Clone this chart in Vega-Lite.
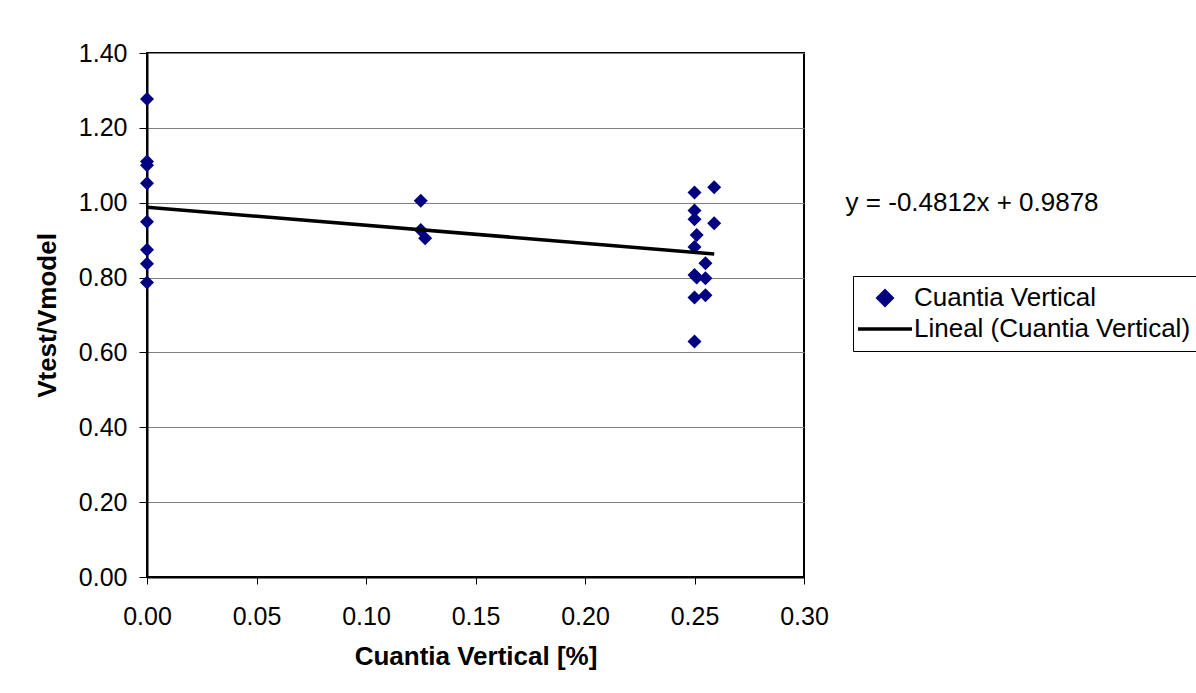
{
  "$schema": "https://vega.github.io/schema/vega-lite/v6.json",
  "width": 657,
  "height": 524,
  "autosize": "none",
  "padding": {"left": 147, "top": 53, "right": 392, "bottom": 116},
  "background": "white",
  "config": {
    "font": "Liberation Sans",
    "view": {"stroke": "black", "strokeWidth": 2}
  },
  "datasets": {
    "points": [
      {"cuantia": 0, "ratio": 1.277, "series": "Cuantia Vertical"},
      {"cuantia": 0, "ratio": 1.110, "series": "Cuantia Vertical"},
      {"cuantia": 0, "ratio": 1.100, "series": "Cuantia Vertical"},
      {"cuantia": 0, "ratio": 1.052, "series": "Cuantia Vertical"},
      {"cuantia": 0, "ratio": 0.949, "series": "Cuantia Vertical"},
      {"cuantia": 0, "ratio": 0.874, "series": "Cuantia Vertical"},
      {"cuantia": 0, "ratio": 0.837, "series": "Cuantia Vertical"},
      {"cuantia": 0, "ratio": 0.787, "series": "Cuantia Vertical"},
      {"cuantia": 0.125, "ratio": 1.005, "series": "Cuantia Vertical"},
      {"cuantia": 0.125, "ratio": 0.927, "series": "Cuantia Vertical"},
      {"cuantia": 0.127, "ratio": 0.905, "series": "Cuantia Vertical"},
      {"cuantia": 0.25, "ratio": 1.027, "series": "Cuantia Vertical"},
      {"cuantia": 0.25, "ratio": 0.979, "series": "Cuantia Vertical"},
      {"cuantia": 0.25, "ratio": 0.956, "series": "Cuantia Vertical"},
      {"cuantia": 0.251, "ratio": 0.914, "series": "Cuantia Vertical"},
      {"cuantia": 0.25, "ratio": 0.882, "series": "Cuantia Vertical"},
      {"cuantia": 0.25, "ratio": 0.807, "series": "Cuantia Vertical"},
      {"cuantia": 0.251, "ratio": 0.800, "series": "Cuantia Vertical"},
      {"cuantia": 0.25, "ratio": 0.747, "series": "Cuantia Vertical"},
      {"cuantia": 0.25, "ratio": 0.629, "series": "Cuantia Vertical"},
      {"cuantia": 0.255, "ratio": 0.838, "series": "Cuantia Vertical"},
      {"cuantia": 0.255, "ratio": 0.798, "series": "Cuantia Vertical"},
      {"cuantia": 0.255, "ratio": 0.753, "series": "Cuantia Vertical"},
      {"cuantia": 0.259, "ratio": 1.041, "series": "Cuantia Vertical"},
      {"cuantia": 0.259, "ratio": 0.945, "series": "Cuantia Vertical"}
    ],
    "trend": [
      {"cuantia": 0, "ratio": 0.9878, "series": "Lineal (Cuantia Vertical)"},
      {"cuantia": 0.259, "ratio": 0.8632, "series": "Lineal (Cuantia Vertical)"}
    ],
    "equation": [
      {"cuantia": 0.319, "ratio": 1.0, "label": "y = -0.4812x + 0.9878"}
    ]
  },
  "layer": [
    {
      "data": {"name": "points"},
      "mark": {"type": "point", "shape": "diamond", "filled": true, "size": 196, "opacity": 1},
      "encoding": {
        "x": {
          "field": "cuantia", "type": "quantitative",
          "scale": {"domain": [0, 0.3], "nice": false, "zero": false},
          "axis": {
            "title": "Cuantia Vertical [%]",
            "values": [0, 0.05, 0.1, 0.15, 0.2, 0.25, 0.3],
            "format": ".2f",
            "grid": false,
            "labelFlush": false,
            "domainColor": "black", "domainWidth": 2,
            "tickColor": "black", "tickSize": 7, "tickWidth": 1,
            "labelFontSize": 25, "labelColor": "black", "labelPadding": 20,
            "titleFontSize": 26, "titleFontWeight": "bold", "titleColor": "black", "titlePadding": 14
          }
        },
        "y": {
          "field": "ratio", "type": "quantitative",
          "scale": {"domain": [0, 1.4], "nice": false},
          "axis": {
            "title": "Vtest/Vmodel",
            "values": [0, 0.2, 0.4, 0.6, 0.8, 1.0, 1.2, 1.4],
            "format": ".2f",
            "labelFlush": false,
            "grid": true, "gridColor": "#808080", "gridWidth": 1,
            "domainColor": "black", "domainWidth": 2,
            "tickColor": "black", "tickSize": 8, "tickWidth": 1,
            "labelFontSize": 25, "labelColor": "black", "labelPadding": 12,
            "titleFontSize": 26, "titleFontWeight": "bold", "titleColor": "black", "titlePadding": 18
          }
        },
        "color": {
          "field": "series", "type": "nominal",
          "scale": {"domain": ["Cuantia Vertical", "Lineal (Cuantia Vertical)"], "range": ["#000080", "#000000"]},
          "legend": {
            "orient": "none",
            "legendX": 706,
            "legendY": 223,
            "title": null,
            "labelFontSize": 26,
            "labelColor": "black",
            "labelLimit": 500,
            "strokeColor": "black",
            "fillColor": "white",
            "padding": 9,
            "symbolSize": 81,
            "symbolStrokeWidth": 3.5,
            "symbolOpacity": 1,
            "symbolOffset": 10,
            "rowPadding": 4,
            "labelOffset": 16,
            "encode": {
              "symbols": {
                "update": {
                  "shape": {"signal": "datum.value === 'Cuantia Vertical' ? 'diamond' : 'M-6,0H6'"},
                  "fill": {"signal": "datum.value === 'Cuantia Vertical' ? '#000080' : 'transparent'"},
                  "stroke": {"signal": "datum.value === 'Cuantia Vertical' ? 'transparent' : 'black'"},
                  "size": {"signal": "datum.value === 'Cuantia Vertical' ? 196 : 81"}
                }
              }
            }
          }
        }
      }
    },
    {
      "data": {"name": "trend"},
      "mark": {"type": "line", "strokeWidth": 3.5},
      "encoding": {
        "x": {"field": "cuantia", "type": "quantitative"},
        "y": {"field": "ratio", "type": "quantitative"},
        "color": {"field": "series", "type": "nominal"}
      }
    },
    {
      "data": {"name": "equation"},
      "mark": {"type": "text", "align": "left", "baseline": "middle", "fontSize": 26, "color": "black", "clip": false},
      "encoding": {
        "x": {"field": "cuantia", "type": "quantitative"},
        "y": {"field": "ratio", "type": "quantitative"},
        "text": {"field": "label"}
      }
    }
  ]
}
